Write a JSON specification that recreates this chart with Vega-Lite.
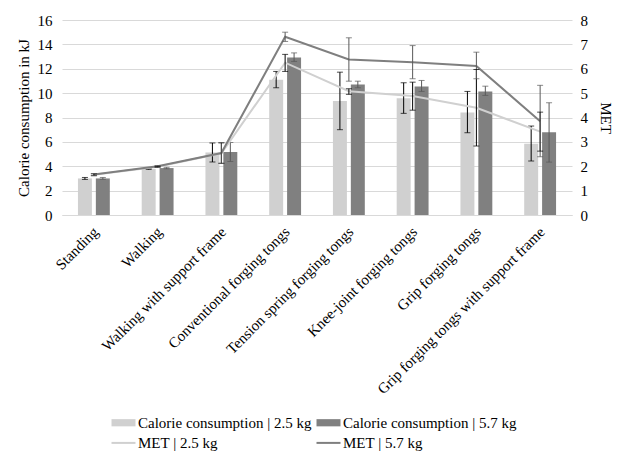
{
  "$schema": "https://vega.github.io/schema/vega-lite/v6.json",
  "width": 510,
  "height": 195,
  "autosize": "none",
  "padding": {"left": 62, "top": 20, "right": 50, "bottom": 237},
  "config": {
    "view": {"stroke": null},
    "font": "Liberation Serif",
    "axis": {
      "labelFont": "Liberation Serif",
      "titleFont": "Liberation Serif",
      "labelFontSize": 15,
      "titleFontSize": 15,
      "titleFontWeight": "normal",
      "labelColor": "#000000",
      "titleColor": "#000000",
      "ticks": false,
      "domain": false
    },
    "legend": {
      "labelFont": "Liberation Serif",
      "labelFontSize": 15,
      "labelColor": "#000000"
    }
  },
  "datasets": {
    "kj": [
      {"activity": "Standing", "mass": "2.5 kg", "series": "Calorie consumption | 2.5 kg", "value": 3.0, "lo": 2.92, "hi": 3.08},
      {"activity": "Standing", "mass": "5.7 kg", "series": "Calorie consumption | 5.7 kg", "value": 3.0, "lo": 2.93, "hi": 3.08},
      {"activity": "Walking", "mass": "2.5 kg", "series": "Calorie consumption | 2.5 kg", "value": 3.78, "lo": 3.74, "hi": 3.82},
      {"activity": "Walking", "mass": "5.7 kg", "series": "Calorie consumption | 5.7 kg", "value": 3.85, "lo": 3.79, "hi": 3.91},
      {"activity": "Walking with support frame", "mass": "2.5 kg", "series": "Calorie consumption | 2.5 kg", "value": 5.13, "lo": 4.35, "hi": 5.91},
      {"activity": "Walking with support frame", "mass": "5.7 kg", "series": "Calorie consumption | 5.7 kg", "value": 5.17, "lo": 4.39, "hi": 5.95},
      {"activity": "Conventional forging tongs", "mass": "2.5 kg", "series": "Calorie consumption | 2.5 kg", "value": 11.1, "lo": 10.44, "hi": 11.78},
      {"activity": "Conventional forging tongs", "mass": "5.7 kg", "series": "Calorie consumption | 5.7 kg", "value": 12.93, "lo": 12.6, "hi": 13.3},
      {"activity": "Tension spring forging tongs", "mass": "2.5 kg", "series": "Calorie consumption | 2.5 kg", "value": 9.35, "lo": 7.0, "hi": 11.72},
      {"activity": "Tension spring forging tongs", "mass": "5.7 kg", "series": "Calorie consumption | 5.7 kg", "value": 10.71, "lo": 10.44, "hi": 10.98},
      {"activity": "Knee-joint forging tongs", "mass": "2.5 kg", "series": "Calorie consumption | 2.5 kg", "value": 9.57, "lo": 8.34, "hi": 10.85},
      {"activity": "Knee-joint forging tongs", "mass": "5.7 kg", "series": "Calorie consumption | 5.7 kg", "value": 10.55, "lo": 10.14, "hi": 11.04},
      {"activity": "Grip forging tongs", "mass": "2.5 kg", "series": "Calorie consumption | 2.5 kg", "value": 8.42, "lo": 6.75, "hi": 10.14},
      {"activity": "Grip forging tongs", "mass": "5.7 kg", "series": "Calorie consumption | 5.7 kg", "value": 10.14, "lo": 9.81, "hi": 10.57},
      {"activity": "Grip forging tongs with support frame", "mass": "2.5 kg", "series": "Calorie consumption | 2.5 kg", "value": 5.85, "lo": 4.43, "hi": 7.3},
      {"activity": "Grip forging tongs with support frame", "mass": "5.7 kg", "series": "Calorie consumption | 5.7 kg", "value": 6.8, "lo": 4.34, "hi": 9.21}
    ],
    "met": [
      {"activity": "Standing", "mass": "2.5 kg", "series": "MET | 2.5 kg", "value": 1.65, "lo": 1.61, "hi": 1.69},
      {"activity": "Standing", "mass": "5.7 kg", "series": "MET | 5.7 kg", "value": 1.66, "lo": 1.62, "hi": 1.7},
      {"activity": "Walking", "mass": "2.5 kg", "series": "MET | 2.5 kg", "value": 1.98, "lo": 1.96, "hi": 2.0},
      {"activity": "Walking", "mass": "5.7 kg", "series": "MET | 5.7 kg", "value": 2.0, "lo": 1.97, "hi": 2.03},
      {"activity": "Walking with support frame", "mass": "2.5 kg", "series": "MET | 2.5 kg", "value": 2.53, "lo": 2.12, "hi": 2.96},
      {"activity": "Walking with support frame", "mass": "5.7 kg", "series": "MET | 5.7 kg", "value": 2.54, "lo": 2.12, "hi": 2.97},
      {"activity": "Conventional forging tongs", "mass": "2.5 kg", "series": "MET | 2.5 kg", "value": 6.25, "lo": 5.89, "hi": 6.59},
      {"activity": "Conventional forging tongs", "mass": "5.7 kg", "series": "MET | 5.7 kg", "value": 7.31, "lo": 7.12, "hi": 7.5},
      {"activity": "Tension spring forging tongs", "mass": "2.5 kg", "series": "MET | 2.5 kg", "value": 5.08, "lo": 4.95, "hi": 5.18},
      {"activity": "Tension spring forging tongs", "mass": "5.7 kg", "series": "MET | 5.7 kg", "value": 6.38, "lo": 5.49, "hi": 7.27},
      {"activity": "Knee-joint forging tongs", "mass": "2.5 kg", "series": "MET | 2.5 kg", "value": 4.88, "lo": 4.3, "hi": 5.45},
      {"activity": "Knee-joint forging tongs", "mass": "5.7 kg", "series": "MET | 5.7 kg", "value": 6.27, "lo": 5.59, "hi": 6.95},
      {"activity": "Grip forging tongs", "mass": "2.5 kg", "series": "MET | 2.5 kg", "value": 4.4, "lo": 2.83, "hi": 5.97},
      {"activity": "Grip forging tongs", "mass": "5.7 kg", "series": "MET | 5.7 kg", "value": 6.11, "lo": 5.59, "hi": 6.68},
      {"activity": "Grip forging tongs with support frame", "mass": "2.5 kg", "series": "MET | 2.5 kg", "value": 3.42, "lo": 2.62, "hi": 4.22},
      {"activity": "Grip forging tongs with support frame", "mass": "5.7 kg", "series": "MET | 5.7 kg", "value": 3.85, "lo": 2.39, "hi": 5.32}
    ]
  },
  "encoding": {
    "x": {
      "field": "activity",
      "type": "nominal",
      "sort": ["Standing", "Walking", "Walking with support frame", "Conventional forging tongs", "Tension spring forging tongs", "Knee-joint forging tongs", "Grip forging tongs", "Grip forging tongs with support frame"],
      "scale": {"paddingInner": 0.5, "paddingOuter": 0.25},
      "axis": {"title": null, "labelAngle": -45, "labelPadding": 9, "labelOffset": -3, "domain": true, "domainColor": "#d9d9d9", "labelLimit": 300}
    }
  },
  "layer": [
    {
      "data": {"name": "kj"},
      "encoding": {
        "y": {
          "field": "value",
          "type": "quantitative",
          "scale": {"domain": [0, 16], "nice": false},
          "axis": {"orient": "left", "title": "Calorie consumption in kJ", "values": [0, 2, 4, 6, 8, 10, 12, 14, 16], "grid": true, "gridColor": "#d9d9d9", "labelPadding": 10, "titlePadding": 6}
        },
        "xOffset": {"field": "mass", "type": "nominal", "scale": {"paddingInner": 0.22, "paddingOuter": 0}}
      },
      "layer": [
        {
          "mark": {"type": "bar"},
          "encoding": {
            "color": {
              "field": "series",
              "type": "nominal",
              "scale": {
                "domain": ["Calorie consumption | 2.5 kg", "MET | 2.5 kg", "Calorie consumption | 5.7 kg", "MET | 5.7 kg"],
                "range": ["#d0d0d0", "#d0d0d0", "#808080", "#7f7f7f"]
              },
              "legend": {
                "title": null,
                "orient": "none",
                "legendX": 54,
                "legendY": 395,
                "columns": 2,
                "columnPadding": 0,
                "rowPadding": 4.4,
                "padding": 0,
                "labelLimit": 300,
                "labelOffset": 7,
                "symbolSize": 256,
                "encode": {
                  "symbols": {
                    "update": {
                      "shape": {"signal": "test(/MET/, datum.value) ? 'M-1.5,0H1.5' : 'M-1.5,-0.45H1.5V0.45H-1.5Z'"},
                      "fill": {"signal": "test(/MET/, datum.value) ? 'transparent' : scale('color', datum.value)"},
                      "stroke": {"signal": "scale('color', datum.value)"},
                      "strokeWidth": {"signal": "test(/MET/, datum.value) ? 2 : 0"},
                      "opacity": {"value": 1}
                    }
                  }
                }
              }
            }
          }
        },
        {
          "mark": {"type": "rule", "strokeWidth": 1},
          "encoding": {
            "y": {"field": "lo", "type": "quantitative"},
            "y2": {"field": "hi"},
            "color": {"condition": {"test": "datum.mass === '2.5 kg'", "value": "#000000"}, "value": "#595959"}
          }
        },
        {
          "mark": {"type": "tick", "thickness": 1, "size": 6, "orient": "horizontal"},
          "encoding": {
            "y": {"field": "lo", "type": "quantitative"},
            "color": {"condition": {"test": "datum.mass === '2.5 kg'", "value": "#000000"}, "value": "#595959"}
          }
        },
        {
          "mark": {"type": "tick", "thickness": 1, "size": 6, "orient": "horizontal"},
          "encoding": {
            "y": {"field": "hi", "type": "quantitative"},
            "color": {"condition": {"test": "datum.mass === '2.5 kg'", "value": "#000000"}, "value": "#595959"}
          }
        }
      ]
    },
    {
      "data": {"name": "met"},
      "encoding": {
        "y": {
          "field": "value",
          "type": "quantitative",
          "scale": {"domain": [0, 8], "nice": false},
          "axis": {"orient": "right", "title": "MET", "values": [0, 1, 2, 3, 4, 5, 6, 7, 8], "grid": false, "labelPadding": 8, "titlePadding": 10}
        }
      },
      "layer": [
        {
          "mark": {"type": "line", "strokeWidth": 2},
          "encoding": {
            "color": {"field": "series", "type": "nominal"}
          }
        },
        {
          "mark": {"type": "rule", "strokeWidth": 1},
          "encoding": {
            "y": {"field": "lo", "type": "quantitative"},
            "y2": {"field": "hi"},
            "color": {"condition": {"test": "datum.mass === '2.5 kg'", "value": "#000000"}, "value": "#595959"}
          }
        },
        {
          "mark": {"type": "tick", "thickness": 1, "size": 6, "orient": "horizontal"},
          "encoding": {
            "y": {"field": "lo", "type": "quantitative"},
            "color": {"condition": {"test": "datum.mass === '2.5 kg'", "value": "#000000"}, "value": "#595959"}
          }
        },
        {
          "mark": {"type": "tick", "thickness": 1, "size": 6, "orient": "horizontal"},
          "encoding": {
            "y": {"field": "hi", "type": "quantitative"},
            "color": {"condition": {"test": "datum.mass === '2.5 kg'", "value": "#000000"}, "value": "#595959"}
          }
        }
      ]
    }
  ],
  "resolve": {"scale": {"y": "independent"}}
}
